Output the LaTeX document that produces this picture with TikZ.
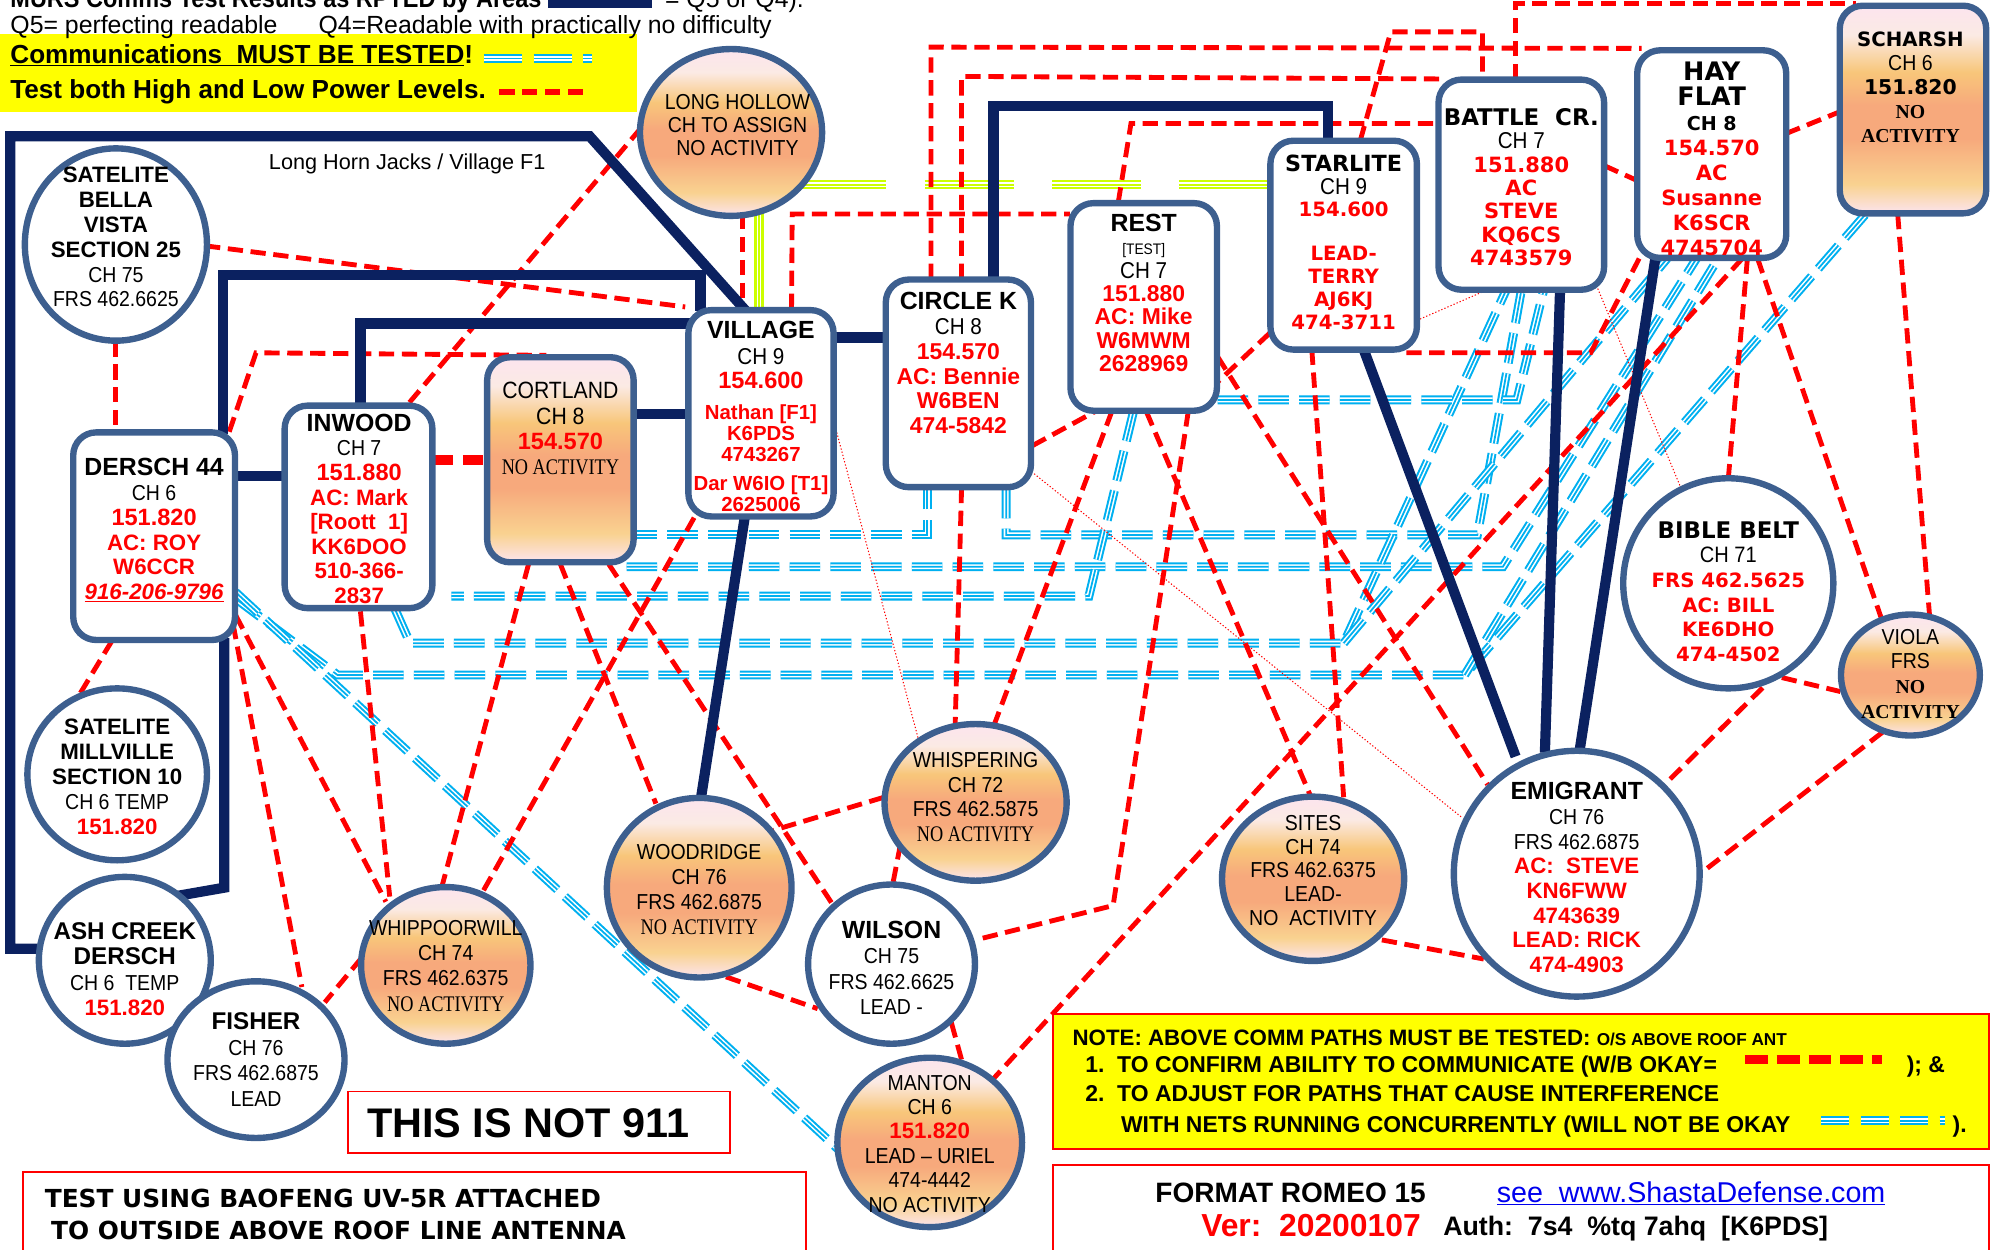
\documentclass[tikz,border=0pt]{standalone}
\usepackage{fontspec}
\setmainfont{Liberation Sans}
\newfontfamily\nar[FakeStretch=0.9]{Liberation Sans}
\newfontfamily\sernar[FakeStretch=0.82]{Liberation Serif}
\newfontfamily\ser{Liberation Serif}
\newfontfamily\wide{DejaVu Sans}
\usetikzlibrary{shapes.geometric,calc}
\definecolor{navyc}{HTML}{0B2160}
\definecolor{bdc}{HTML}{3D5F8F}
\definecolor{cyc}{HTML}{00B0F0}
\definecolor{lmc}{HTML}{CCFF00}
\definecolor{rdc}{HTML}{FF0000}
\definecolor{ylc}{HTML}{FFFF00}
\definecolor{lnk}{HTML}{0000EE}
\definecolor{sa}{HTML}{FCE4EE}
\definecolor{sb}{HTML}{F9D290}
\definecolor{sc}{HTML}{F7A97C}
\definecolor{sd}{HTML}{F8C67A}
\definecolor{se}{HTML}{FBEAE4}
\pgfdeclareverticalshading{peach}{100bp}{color(0bp)=(sa); color(25bp)=(sa); color(32bp)=(sb); color(43bp)=(sc); color(51bp)=(sc); color(59bp)=(sd); color(68bp)=(se); color(75bp)=(sa); color(100bp)=(sa)}
\pgfdeclarelayer{bg}
\pgfsetlayers{bg,main}
\newcommand\HD[2][19]{{\fontsize{#1}{1}\selectfont\bfseries #2}}
\newcommand\CH[2][17]{{\nar\fontsize{#1}{1}\selectfont #2}}
\newcommand\RD[2][17.5]{{\color{rdc}\fontsize{#1}{1}\selectfont\bfseries #2}}
\newcommand\NA[2][17.5]{{\sernar\fontsize{#1}{1}\selectfont #2}}
\newcommand\NB[2][15.5]{{\ser\fontsize{#1}{1}\selectfont\bfseries #2}}
\newcommand\WD[2][17]{{\wide\fontsize{#1}{1}\selectfont\bfseries #2}}
\newcommand\WR[2][16]{{\color{rdc}\wide\fontsize{#1}{1}\selectfont\bfseries #2}}
\tikzset{
  rbox/.style={draw=bdc, line width=5pt, rounded corners=18pt, inner sep=0pt, outer sep=0pt},
  ebox/.style={draw=bdc, line width=5pt, ellipse, inner sep=0pt, outer sep=0pt},
  wf/.style={fill=white},
  grad/.style={shading=peach},
  tx/.style={align=center, inner sep=0pt, font=\fontsize{17}{#1}\selectfont},
  tx/.default={19.4pt},
  nvl/.style={draw=navyc, line width=8pt},
  rdl/.style={draw=rdc, line width=3.8pt, dash pattern=on 12pt off 6pt},
  dotl/.style={draw=rdc, line width=0.8pt, dash pattern=on 1pt off 1.6pt},
  bl/.style={draw=cyc, line width=7pt, dash pattern=#1,
    postaction={draw=white, line width=3.8pt, dash pattern=#1},
    postaction={draw=cyc, line width=1.4pt, dash pattern=#1}},
  bl/.default={on 24pt off 8pt},
  lml/.style={draw=lmc, line width=7.5pt, dash pattern=#1,
    postaction={draw=white, line width=3.6pt, dash pattern=#1},
    postaction={draw=lmc, line width=1.6pt, dash pattern=#1}},
  lml/.default={on 70pt off 30pt},
  lms/.style={draw=lmc, line width=7.5pt,
    postaction={draw=white, line width=3.6pt},
    postaction={draw=lmc, line width=1.6pt}},
  hd/.style={anchor=base west, inner sep=0pt},
  redbox/.style={draw=rdc, line width=1.5pt}
}
\begin{document}
\begin{tikzpicture}[x=1pt,y=-1pt]
\useasboundingbox (0,0) rectangle (1568,981);
% ---------- header ----------
\fill[ylc] (0,27) rectangle (500,88);
\node[hd, font=\nar\fontsize{20.5}{20}\selectfont\bfseries] (h0) at (8,6) {MURS Comms Test Results as RPTED by Areas};
\fill[navyc] (430,-6) rectangle (512,6);
\node[hd, font=\fontsize{19.5}{20}\selectfont] (h0b) at (522,6) {= Q5 or Q4).};
\node[hd, font=\fontsize{19.5}{20}\selectfont] (h1) at (8,26) {Q5= perfecting readable};
\node[hd, font=\fontsize{19.5}{20}\selectfont] (h2) at (250,26) {Q4=Readable with practically no difficulty};
\node[hd, font=\fontsize{20.5}{20}\selectfont\bfseries] (h3) at (8,50) {\underline{Communications\ \ MUST BE TESTED}!};
\node[hd, font=\fontsize{20.5}{20}\selectfont\bfseries] (h4) at (8,77) {Test both High and Low Power Levels.};
\draw[bl={on 30pt off 9pt}] (380,46) -- (465,46);
\draw[draw=rdc, line width=4.5pt, dash pattern=on 12pt off 6pt] (392,72) -- (460,72);
\node[hd, font=\fontsize{17}{17}\selectfont] (lhj) at (211,133) {Long Horn Jacks / Village F1};

% ---------- nodes ----------
\node[rbox, wf, minimum width=127pt, minimum height=163pt] (dersch) at (121,421) {};
\node[rbox, wf, minimum width=116pt, minimum height=159pt] (inwood) at (281.5,398) {};
\node[rbox, grad, minimum width=115pt, minimum height=161pt] (cort) at (440,361) {};
\node[rbox, wf, minimum width=114pt, minimum height=162pt] (vil) at (597.5,324.5) {};
\node[rbox, wf, minimum width=114pt, minimum height=163pt] (circk) at (752.5,301) {};
\node[rbox, wf, minimum width=115pt, minimum height=163pt] (rest) at (898,241) {};
\node[rbox, wf, minimum width=115pt, minimum height=164pt] (star) at (1055,192.5) {};
\node[rbox, wf, minimum width=130pt, minimum height=165pt] (battle) at (1194.5,145) {};
\node[rbox, wf, minimum width=117pt, minimum height=163pt] (hay) at (1344,121) {};
\node[rbox, grad, minimum width=115pt, minimum height=163pt] (scharsh) at (1502,86) {};
\node[ebox, wf, minimum width=143pt, minimum height=151pt] (bella) at (91,192) {};
\node[ebox, grad, minimum width=143pt, minimum height=131pt] (lhollow) at (574,104) {};
\node[ebox, wf, minimum width=165pt, minimum height=165pt] (bible) at (1357,458) {};
\node[ebox, grad, minimum width=109pt, minimum height=95pt] (viola) at (1500,530) {};
\node[ebox, wf, minimum width=193pt, minimum height=193pt] (emig) at (1238,686) {};
\node[ebox, grad, minimum width=143pt, minimum height=129pt] (sites) at (1031,690) {};
\node[ebox, grad, minimum width=143pt, minimum height=123pt] (whisp) at (766,630) {};
\node[ebox, wf, minimum width=131pt, minimum height=125pt] (wilson) at (700,757) {};
\node[ebox, grad, minimum width=145pt, minimum height=133pt] (manton) at (730,897) {};
\node[ebox, grad, minimum width=145pt, minimum height=141pt] (wood) at (549,697) {};
\node[ebox, grad, minimum width=133pt, minimum height=123pt] (whip) at (350,758) {};
\node[ebox, wf, minimum width=141pt, minimum height=135pt] (mill) at (92,608) {};
\node[ebox, wf, minimum width=135pt, minimum height=131pt] (ash) at (98,754) {};
\node[ebox, wf, minimum width=139pt, minimum height=123pt] (fisher) at (201,832) {};

% ---------- node texts ----------
\node[tx=19.6pt] (bella-t) at (91,186) {\HD[17.5]{SATELITE}\\ \HD[17.5]{BELLA}\\ \HD[17.5]{VISTA}\\ \HD[17.5]{SECTION 25}\\ \CH{CH 75}\\ \CH{FRS 462.6625}};
\node[tx=19.4pt] (dersch-t) at (121,416.5) {\HD[19.5]{DERSCH 44}\\ \CH{CH 6}\\ \RD[18.5]{151.820}\\ \RD{AC: ROY}\\ \RD{W6CCR}\\ {\color{rdc}\fontsize{17.5}{1}\selectfont\bfseries\itshape\underline{916-206-9796}}};
\node[tx=19.3pt] (inwood-t) at (282,399.5) {\HD[19.5]{INWOOD}\\ \CH{CH 7}\\ \RD[18.5]{151.880}\\ \RD{AC: Mark}\\ \RD{[Roott\ \ 1]}\\ \RD{KK6DOO}\\ \RD{510-366-}\\ \RD{2837}};
\node[tx=19.7pt] (cort-t) at (440,336.5) {\CH[18.5]{CORTLAND}\\ \CH[18.5]{CH 8}\\ \RD[18.5]{154.570}\\ \NA{NO ACTIVITY}};
\node[tx=16.6pt] (vil-t) at (597.5,327) {\HD[19.5]{VILLAGE}\\[4pt] \CH[18]{CH 9}\\[2pt] \RD[18.5]{154.600}\\[8pt] \RD[16]{Nathan [F1]}\\ \RD[16]{K6PDS}\\ \RD[16]{4743267}\\[6pt] \RD[16]{Dar W6IO [T1]}\\ \RD[16]{2625006}};
\node[tx=18pt] (lhollow-t) at (579,98) {\CH[17]{LONG HOLLOW}\\ \CH[17]{CH TO ASSIGN}\\ \CH[17]{NO ACTIVITY}};
\node[tx=19.6pt] (circk-t) at (752.5,285) {\HD[19.5]{CIRCLE K}\\ \CH[18]{CH 8}\\ \RD[18]{154.570}\\ \RD[18]{AC: Bennie}\\ \RD[18]{W6BEN}\\ \RD[18]{474-5842}};
\node[tx=18.3pt] (rest-t) at (898,230) {\HD[19.5]{REST}\\ {\nar\fontsize{12}{1}\selectfont [TEST]}\\ \CH[18]{CH 7}\\ \RD[18]{151.880}\\ \RD[18]{AC: Mike}\\ \RD[18]{W6MWM}\\ \RD[18]{2628969}};
\node[tx=18pt] (star-t) at (1055,190) {\WD[17.5]{STARLITE}\\ \CH[18]{CH 9}\\ \WR[15.5]{154.600}\\[16pt] \WR[15.5]{LEAD-}\\ \WR[15.5]{TERRY}\\ \WR[15.5]{AJ6KJ}\\ \WR[15.5]{474-3711}};
\node[tx=18.3pt] (battle-t) at (1194.5,147) {\WD[18]{BATTLE\ \ CR.}\\ \CH[18]{CH 7}\\ \WR[16.5]{151.880}\\ \WR[16.5]{AC}\\ \WR[16.5]{STEVE}\\ \WR[16.5]{KQ6CS}\\ \WR[16.5]{4743579}};
\node[tx=19.6pt] (hay-t) at (1344,124.5) {\WD[20]{HAY}\\ \WD[20]{FLAT}\\ \WD[15]{CH 8}\\ \WR[16.5]{154.570}\\ \WR[16.5]{AC}\\ \WR[16.5]{Susanne}\\ \WR[16.5]{K6SCR}\\ \WR[16.5]{4745704}};
\node[tx=18.8pt] (scharsh-t) at (1500,68.5) {\WD[15.5]{SCHARSH}\\ \CH[17]{CH 6}\\ \WD[16]{151.820}\\ \NB{NO}\\ \NB{ACTIVITY}};
\node[tx=19.4pt] (bible-t) at (1357,464.5) {\WD[18]{BIBLE BELT}\\ \CH[17.5]{CH 71}\\ \WR[15.5]{FRS 462.5625}\\ \WR[15.5]{AC: BILL}\\ \WR[15.5]{KE6DHO}\\ \WR[15.5]{474-4502}};
\node[tx=19.3pt] (viola-t) at (1500,529) {\CH[17]{VIOLA}\\ \CH[17]{FRS}\\ \NB{NO}\\ \NB{ACTIVITY}};
\node[tx=19.4pt] (emig-t) at (1238,689) {\HD[19.5]{EMIGRANT}\\ \CH{CH 76}\\ \CH{FRS 462.6875}\\ \RD{AC:\ \ STEVE}\\ \RD{KN6FWW}\\ \RD{4743639}\\ \RD{LEAD: RICK}\\ \RD{474-4903}};
\node[tx=18.75pt] (sites-t) at (1031,683.5) {\CH{SITES}\\ \CH{CH 74}\\ \CH{FRS 462.6375}\\ \CH{LEAD-}\\ \CH{NO\ \ ACTIVITY}};
\node[tx=19.3pt] (whisp-t) at (766,626) {\CH{WHISPERING}\\ \CH{CH 72}\\ \CH{FRS 462.5875}\\ \NA{NO ACTIVITY}};
\node[tx=20pt] (wilson-t) at (700,760) {\HD[19.5]{WILSON}\\ \CH{CH 75}\\ \CH{FRS 462.6625}\\ \CH{LEAD -}};
\node[tx=19.2pt] (manton-t) at (730,898) {\CH{MANTON}\\ \CH{CH 6}\\ \RD{151.820}\\ \CH{LEAD – URIEL}\\ \CH{474-4442}\\ \CH{NO ACTIVITY}};
\node[tx=19.6pt] (wood-t) at (549,698.5) {\CH{WOODRIDGE}\\ \CH{CH 76}\\ \CH{FRS 462.6875}\\ \NA{NO ACTIVITY}};
\node[tx=19.7pt] (whip-t) at (350,758.5) {\CH{WHIPPOORWILL}\\ \CH{CH 74}\\ \CH{FRS 462.6375}\\ \NA{NO ACTIVITY}};
\node[tx=20pt] (fisher-t) at (201,832) {\HD[19]{FISHER}\\ \CH{CH 76}\\ \CH{FRS 462.6875}\\ \CH{LEAD}};
\node[tx=20pt] (ash-t) at (98,761) {\HD[19]{ASH CREEK}\\ \HD[19]{DERSCH}\\ \CH{CH 6\ \ TEMP}\\ \RD{151.820}};
\node[tx=19.5pt] (mill-t) at (92,610) {\HD[17.5]{SATELITE}\\ \HD[17.5]{MILLVILLE}\\ \HD[17.5]{SECTION 10}\\ \CH{CH 6 TEMP}\\ \RD{151.820}};

% ---------- text boxes ----------
\draw[redbox] (273,857) rectangle (573,905);
\node[hd, font=\fontsize{32.5}{32}\selectfont\bfseries] (n911) at (288,893) {THIS IS NOT 911};
\draw[redbox] (18,920) rectangle (633,995);
\node[hd, font=\wide\fontsize{19.5}{20}\selectfont\bfseries] (bao1) at (35,948) {TEST USING BAOFENG UV-5R ATTACHED};
\node[hd, font=\wide\fontsize{19.5}{20}\selectfont\bfseries] (bao2) at (40,973) {TO OUTSIDE ABOVE ROOF LINE ANTENNA};
\draw[redbox, fill=ylc] (827,796) rectangle (1562,902);
\node[hd, font=\fontsize{17.5}{18}\selectfont\bfseries] (note1) at (842,821) {NOTE: ABOVE COMM PATHS MUST BE TESTED: {\fontsize{13.5}{12}\selectfont O/S ABOVE ROOF ANT}};
\node[hd, font=\fontsize{18}{18}\selectfont\bfseries] (note2) at (852,842) {1.\ \ TO CONFIRM ABILITY TO COMMUNICATE (W/B OKAY=};
\node[hd, font=\fontsize{18}{18}\selectfont\bfseries] (note2b) at (1497,842) {); \&};
\node[hd, font=\fontsize{18}{18}\selectfont\bfseries] (note3) at (852,865) {2.\ \ TO ADJUST FOR PATHS THAT CAUSE INTERFERENCE};
\node[hd, font=\fontsize{18}{18}\selectfont\bfseries] (note4) at (880,889) {WITH NETS RUNNING CONCURRENTLY (WILL NOT BE OKAY};
\node[hd, font=\fontsize{18}{18}\selectfont\bfseries] (note4b) at (1533,889) {).};
\draw[draw=rdc, line width=7pt, dash pattern=on 18pt off 7pt] (1370,832) -- (1478,832);
\draw[bl={on 22pt off 9pt}] (1430,880) -- (1527,880);
\draw[redbox] (827,915) rectangle (1562,995);
\node[hd, font=\fontsize{22}{22}\selectfont\bfseries] (fmt) at (907,944) {FORMAT ROMEO 15};
\node[hd, font=\fontsize{22.5}{22}\selectfont, text=lnk] (url) at (1175,944) {\underline{see\ \ www.ShastaDefense.com}};
\node[hd, font=\fontsize{25}{25}\selectfont\bfseries, text=rdc] (ver) at (943,971) {Ver:\ \ 20200107};
\node[hd, font=\fontsize{21}{20}\selectfont\bfseries] (auth) at (1133,970) {Auth:\ \ 7s4\ \ \%tq 7ahq\ \ [K6PDS]};

% ---------- connectors ----------
\begin{pgfonlayer}{bg}
% blue triple dashed
\coordinate (b4e) at (1055,505);
\coordinate (b5e) at (1150,530);
\draw[bl] ($(cort)+(52,59)$) -- (728,420) -- ($(circk)+(-24.5,82)$);
\draw[bl] ($(circk)+(37.5,82)$) -- (790,420) -- (1160,420) -- ($(battle)+(0,83)$);
\draw[bl] ($(cort)+(52,84)$) -- (1180,445) -- ($(hay)+(-12,82)$);
\draw[bl] ($(inwood)+(28.5,80)$) -- (322,505) -- (b4e) -- ($(battle)+(-12,83)$);
\draw[bl] (b4e) -- ($(hay)+(-35,82)$);
\draw[bl] ($(dersch)+(64,49)$) -- (265,530) -- (b5e) -- ($(scharsh)+(-37,82)$);
\draw[bl] (b5e) -- ($(hay)+(5,82)$);
\draw[bl] ($(rest)+(-8,82)$) -- (855,468) -- ($(inwood)+(73,70)$);
\draw[bl] ($(rest)+(58,73)$) -- (1191,314) -- ($(battle)+(17.5,83)$);
\draw[bl] ($(dersch)+(64,44)$) -- ($(manton)+(-42,33)$);
% lime
\draw[lms] ($(lhollow)+(22,60)$) -- ($(vil)+(-1.5,-80)$);
\draw[lml] ($(lhollow)+(52,41)$) -- ($(star)+(-58,-47.5)$);
% red dashed
\draw[rdl] ($(bella)+(70,1)$) -- ($(vil)+(-59.5,-83.5)$);
\draw[rdl] ($(bella)+(0,76)$) -- ($(dersch)+(-30,-82)$);
\draw[rdl] ($(dersch)+(59,-82)$) -- (201,277) -- ($(cort)+(-11,-82)$);
\draw[rdl] ($(inwood)+(40,-82)$) -- ($(lhollow)+(-72,-2)$);
\draw[draw=rdc, line width=8pt, dash pattern=on 16pt off 8pt] ($(inwood)+(58,-37)$) -- ($(cort)+(-58,0)$);
\draw[rdl] ($(dersch)+(-33,82)$) -- ($(mill)+(-30,-62)$);
\draw[rdl] ($(lhollow)+(9,64)$) -- ($(vil)+(-14.5,-82)$);
\draw[rdl] ($(vil)+(24,-82)$) -- (622,168) -- ($(rest)+(-58,-73)$);
\draw[rdl] ($(circk)+(-21.5,-82)$) -- (731,37) -- ($(hay)+(-55,-83)$);
\draw[rdl] ($(circk)+(2.5,-82)$) -- (755,60) -- ($(battle)+(-62,-83)$);
\draw[rdl] ($(rest)+(-20,-82)$) -- (888,97) -- ($(battle)+(-65,-48)$);
\draw[rdl] ($(star)+(13,-82)$) -- (1092,25) -- (1164,25) -- ($(battle)+(-30.5,-83)$);
\draw[rdl] ($(battle)+(-4.5,-83)$) -- (1190,3) -- ($(scharsh)+(-45,-83)$);
\draw[rdl] ($(hay)+(58,-16)$) -- ($(scharsh)+(-58,2)$);
\draw[rdl] ($(battle)+(65,-15)$) -- ($(hay)+(-58,21)$);
\draw[rdl] ($(scharsh)+(-12,82)$) -- ($(viola)+(15,-47)$);
\draw[rdl] ($(hay)+(36,82)$) -- ($(viola)+(-23,-45)$);
\draw[rdl] ($(hay)+(28,82)$) -- ($(bible)+(0,-82)$);
\draw[rdl] ($(hay)+(24,82)$) -- ($(manton)+(50,-50)$);
\draw[rdl] ($(hay)+(-57,82)$) -- (1249,277) -- ($(star)+(45,84.5)$);
\draw[rdl] ($(bible)+(42,74)$) -- ($(viola)+(-55,13)$);
\draw[rdl] ($(viola)+(-22,45)$) -- ($(emig)+(97,0)$);
\draw[rdl] ($(bible)+(27,82)$) -- ($(emig)+(69,-70)$);
\draw[rdl] ($(star)+(-25,82)$) -- ($(sites)+(24,-64)$);
\draw[rdl] ($(star)+(-58,69)$) -- ($(rest)+(58,59)$);
\draw[rdl] ($(rest)+(35,82)$) -- (874,711) -- ($(wilson)+(66,-19)$);
\draw[rdl] ($(rest)+(2,82)$) -- ($(sites)+(-2,-65)$);
\draw[rdl] ($(rest)+(-25,82)$) -- ($(whisp)+(15,-62)$);
\draw[rdl] ($(rest)+(58,39)$) -- ($(emig)+(-70,-70)$);
\draw[rdl] ($(whisp)+(-72,-4)$) -- ($(wood)+(58,-45)$);
\draw[rdl] ($(whisp)+(-59,33)$) -- ($(wilson)+(1,-63)$);
\draw[rdl] ($(wood)+(21,70)$) -- ($(wilson)+(-58,35)$);
\draw[rdl] ($(wilson)+(47,46)$) -- ($(manton)+(25,-65)$);
\draw[rdl] ($(whip)+(-66,-6)$) -- ($(fisher)+(54,-45)$);
\draw[rdl] ($(sites)+(54,48)$) -- ($(emig)+(-73,67)$);
\draw[rdl] ($(dersch)+(62,69)$) -- ($(fisher)+(36,-57)$);
\draw[rdl] ($(dersch)+(64,62)$) -- ($(whip)+(-47,-50)$);
\draw[rdl] ($(inwood)+(1.5,82)$) -- ($(whip)+(-44,-54)$);
\draw[rdl] ($(cort)+(-25,82)$) -- ($(whip)+(-3,-62)$);
\draw[rdl] ($(cort)+(0,82)$) -- ($(wood)+(-34,-66)$);
\draw[rdl] ($(cort)+(38,82)$) -- ($(wilson)+(-45,-45)$);
\draw[rdl] ($(vil)+(-52.5,82)$) -- ($(whip)+(28,-56)$);
\draw[rdl] ($(circk)+(2.5,82)$) -- ($(whisp)+(-16,-62)$);
\draw[rdl] ($(circk)+(58,49)$) -- ($(rest)+(-38,82)$);
% dotted
\draw[dotl] ($(vil)+(59.5,15)$) -- ($(whisp)+(-45,-50)$);
\draw[dotl] ($(circk)+(59.5,71)$) -- ($(emig)+(-90,-44)$);
\draw[dotl] ($(star)+(60,58)$) -- ($(battle)+(-30,84)$);
\draw[dotl] ($(battle)+(56,72)$) -- ($(bible)+(-36,-72)$);
% navy
\draw[nvl] ($(ash)+(-20,-9)$) -- (8,745) -- (8,107) -- (463,107) -- ($(vil)+(-11.5,-80)$);
\draw[nvl] ($(dersch)+(54,-80)$) -- (175,216) -- (550,216) -- ($(vil)+(-47.5,-80)$);
\draw[nvl] ($(inwood)+(1.5,-78)$) -- (283,254) -- ($(vil)+(-55,-70.5)$);
\draw[nvl] ($(dersch)+(60,-47)$) -- ($(inwood)+(-55,-24)$);
\draw[nvl] ($(cort)+(55,-36)$) -- ($(vil)+(-55,0.5)$);
\draw[nvl] ($(vil)+(55,-59.5)$) -- ($(circk)+(-55,-36)$);
\draw[nvl] ($(circk)+(27.5,-80)$) -- (780,83) -- (1043,83) -- ($(star)+(-12,-80)$);
\draw[nvl] ($(vil)+(-12.5,80)$) -- ($(wood)+(1,-68)$);
\draw[nvl] ($(star)+(15,80)$) -- ($(emig)+(-48,-92)$);
\draw[nvl] ($(battle)+(30.5,80)$) -- ($(emig)+(-25,-95)$);
\draw[nvl] ($(hay)+(-44,80)$) -- ($(emig)+(2,-95)$);
\draw[nvl] ($(dersch)+(55,80)$) -- (176,697) -- ($(ash)+(38,-50)$);
\end{pgfonlayer}
\end{tikzpicture}
\end{document}
